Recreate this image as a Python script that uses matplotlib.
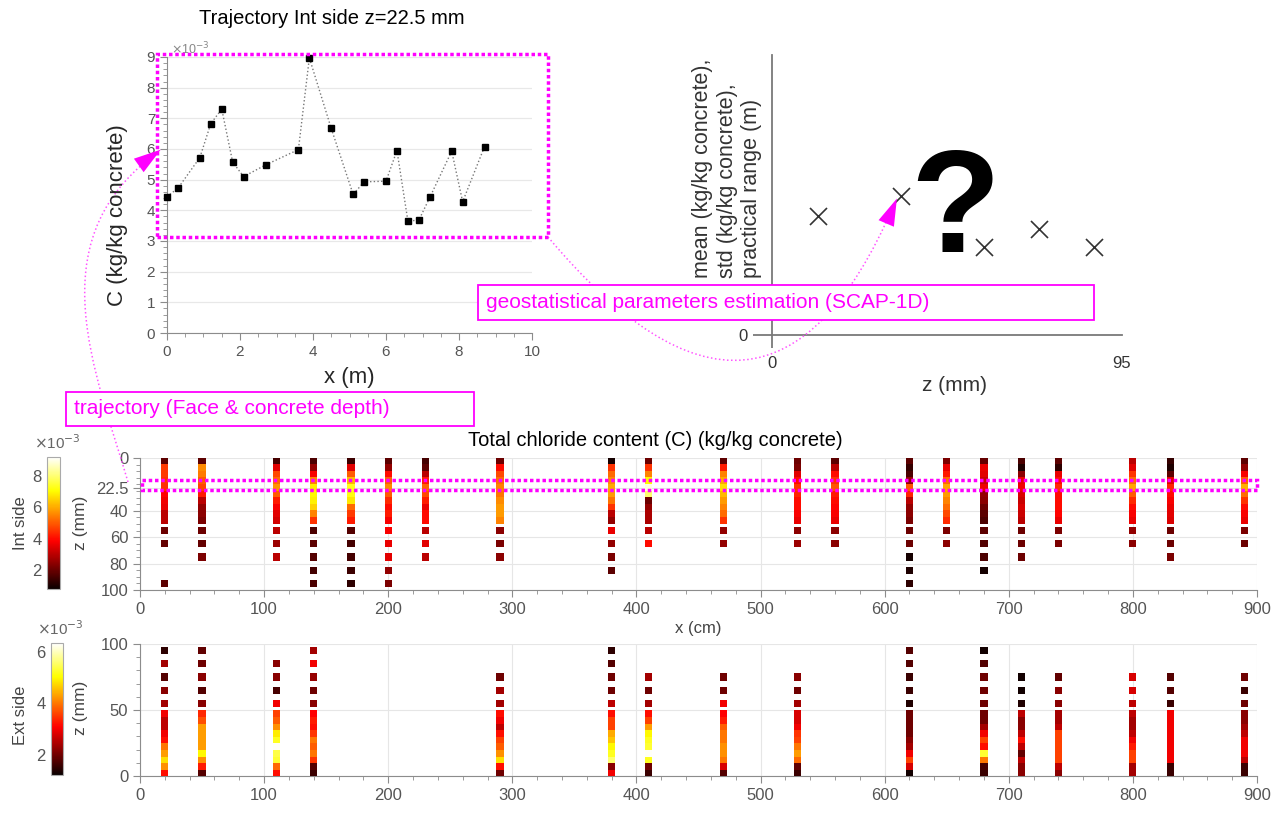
import numpy as np
import matplotlib
matplotlib.use('Agg')
import matplotlib.pyplot as plt
from matplotlib.path import Path
from matplotlib.patches import PathPatch, FancyArrowPatch, Rectangle
from matplotlib.ticker import MultipleLocator

plt.rcParams['font.family'] = ['Liberation Sans', 'DejaVu Sans']

nan = np.nan

# trajectory Int side, z = 22.5 mm  (C in 1e-3 kg/kg concrete)
traj_x = [0, 0.3, 0.9, 1.2, 1.5, 1.8, 2.1, 2.7, 3.6, 3.9, 4.5, 5.1, 5.4, 6.0, 6.3, 6.6, 6.9, 7.2, 7.8, 8.1, 8.7]
traj_c = [4.45, 4.72, 5.72, 6.83, 7.30, 5.57, 5.10, 5.48, 5.98, 8.97, 6.67, 4.52, 4.93, 4.95, 5.95, 3.65, 3.68, 4.42, 5.93, 4.28, 6.08]

# sketch of geostatistical parameters vs depth
par_z = [12.5, 35, 57.5, 72.5, 87.5]
par_v = [0.425, 0.496, 0.314, 0.379, 0.314]

# depth grid (mm)
z_top = [2.5, 7.5, 12.5, 17.5, 22.5, 27.5, 32.5, 37.5, 42.5, 47.5]
z_deep = [55, 65, 75, 85, 95]

# Int side profiles
int_x = [20, 50, 110, 140, 170, 200, 230, 290, 380, 410, 470, 530, 560, 620, 650, 680, 710, 740, 800, 830, 890]
int_top = [
    [1.8, 4.6, 4.6, 4.5, 4.45, 3.9, 3.7, 3.6, 3.0, 3.0],
    [1.8, 5.6, 5.4, 5.0, 4.72, 4.2, 3.0, 2.5, 2.4, 2.2],
    [1.5, 3.5, 4.8, 5.2, 5.72, 5.0, 4.2, 3.8, 3.5, 3.3],
    [1.6, 2.5, 3.8, 5.5, 6.83, 7.0, 6.9, 6.5, 5.5, 4.5],
    [1.4, 3.5, 5.0, 6.2, 7.30, 7.2, 6.8, 5.2, 4.6, 4.2],
    [1.8, 2.5, 4.0, 5.0, 5.57, 5.0, 4.4, 4.0, 4.2, 3.8],
    [1.5, 1.8, 3.0, 4.2, 5.10, 4.8, 4.2, 3.6, 4.0, 4.0],
    [2.0, 4.0, 4.8, 5.2, 5.48, 5.3, 5.6, 5.8, 5.8, 5.5],
    [0.9, 4.5, 5.2, 5.6, 5.98, 5.8, 5.3, 4.5, 3.0, 2.5],
    [2.0, 4.5, 5.5, 7.0, 8.97, 8.0, 2.0, 2.5, 2.8, 2.8],
    [1.8, 4.2, 5.5, 6.0, 6.67, 6.2, 5.8, 5.5, 5.2, 4.5],
    [2.0, 2.2, 3.5, 4.0, 4.52, 4.3, 4.0, 4.0, 3.8, 3.6],
    [1.8, 3.0, 4.0, 4.5, 4.93, 4.2, 4.0, 3.9, 3.8, 3.6],
    [1.8, 1.3, 1.6, 2.5, 4.95, 4.3, 3.0, 2.5, 2.4, 2.2],
    [2.2, 3.6, 4.2, 5.2, 5.95, 5.8, 5.5, 5.2, 4.8, 4.4],
    [1.9, 3.6, 3.5, 3.2, 3.65, 2.5, 2.4, 2.0, 1.8, 1.6],
    [1.6, 1.0, 2.4, 3.6, 3.68, 3.4, 3.2, 3.4, 3.2, 3.0],
    [1.8, 1.2, 3.6, 4.0, 4.42, 4.0, 4.0, 4.0, 3.9, 3.6],
    [3.0, 3.5, 4.5, 5.2, 5.93, 5.0, 4.4, 4.0, 3.8, 3.6],
    [1.3, 1.0, 1.8, 3.5, 4.28, 4.0, 3.8, 3.6, 3.5, 3.4],
    [1.8, 2.5, 3.8, 5.0, 6.08, 5.2, 4.5, 4.0, 3.8, 3.6],
]
int_deep = [
    [2.0, 1.9, nan, nan, 1.8],
    [2.0, 1.9, 2.2, nan, nan],
    [3.0, 2.6, 3.0, nan, nan],
    [1.6, 1.8, 1.7, 1.5, 1.6],
    [1.7, 1.5, 1.5, 1.4, 1.2],
    [3.8, 3.6, 3.5, 2.5, 2.2],
    [3.0, 3.5, 3.0, nan, nan],
    [2.4, 2.2, 2.4, nan, nan],
    [3.6, 2.5, 2.2, 1.8, nan],
    [3.0, 4.0, nan, nan, nan],
    [2.5, 2.5, nan, nan, nan],
    [2.4, 2.6, nan, nan, nan],
    [2.4, 2.4, nan, nan, nan],
    [2.0, 2.0, 0.9, 1.0, 1.2],
    [2.2, 2.4, nan, nan, nan],
    [1.8, 1.7, 1.6, 0.9, nan],
    [2.0, 2.0, 2.0, nan, nan],
    [2.2, 2.2, nan, nan, nan],
    [2.5, 2.4, nan, nan, nan],
    [2.0, 2.0, 2.2, nan, nan],
    [2.2, 2.0, nan, nan, nan],
]

# Ext side profiles
ext_x = [20, 50, 110, 140, 290, 380, 410, 470, 530, 620, 680, 710, 740, 800, 830, 890]
ext_top = [
    [3.2, 4.2, 4.8, 4.3, 4.0, 3.2, 3.0, 2.6, 2.6, 3.0],
    [1.8, 3.3, 4.2, 5.0, 4.3, 4.3, 4.3, 4.3, 3.7, 3.4],
    [3.2, 3.9, 5.3, 5.4, 6.3, 5.2, 4.9, 4.2, 3.8, 3.6],
    [1.6, 1.8, 3.5, 4.0, 3.8, 4.0, 3.5, 3.2, 3.3, 3.1],
    [2.0, 3.2, 4.8, 4.2, 3.8, 3.6, 3.2, 2.6, 3.0, 3.2],
    [3.0, 2.2, 5.6, 5.2, 5.0, 4.6, 4.4, 3.6, 3.6, 3.2],
    [1.6, 2.0, 5.2, 6.3, 5.3, 5.2, 5.0, 4.3, 3.6, 3.2],
    [1.8, 2.8, 4.0, 4.2, 4.2, 4.0, 4.0, 3.8, 3.3, 3.1],
    [1.6, 1.9, 3.9, 4.3, 4.0, 3.6, 3.5, 3.0, 2.8, 2.8],
    [1.3, 2.8, 3.6, 3.0, 2.4, 2.2, 2.0, 2.0, 2.0, 2.0],
    [1.6, 1.7, 4.0, 5.3, 3.2, 3.6, 3.0, 2.4, 2.0, 2.0],
    [2.2, 2.2, 2.6, 1.9, 2.6, 3.2, 2.6, 2.2, 2.2, 2.6],
    [2.2, 2.6, 3.6, 3.6, 3.6, 3.6, 3.6, 2.6, 2.4, 2.4],
    [2.4, 2.4, 3.6, 3.6, 3.3, 3.0, 2.6, 2.4, 2.4, 2.6],
    [1.6, 1.6, 3.0, 3.0, 3.0, 3.0, 3.0, 3.0, 3.0, 3.0],
    [1.6, 1.6, 2.6, 3.0, 3.0, 3.0, 2.6, 2.4, 2.2, 2.2],
]
ext_deep = [
    [2.4, 2.2, 1.8, 2.4, 1.5],
    [2.2, 1.8, 2.2, 2.0, 1.9],
    [3.0, 1.7, 2.2, 2.2, nan],
    [2.2, 2.0, 2.3, 3.0, 2.4],
    [2.4, 2.4, 2.0, nan, nan],
    [2.6, 2.0, 2.0, 1.8, 1.5],
    [2.4, 2.0, 2.4, nan, nan],
    [3.0, 2.0, 2.0, nan, nan],
    [2.4, 2.0, 2.2, nan, nan],
    [1.4, 1.6, 1.6, 1.8, 1.8],
    [2.0, 2.0, 2.0, 1.8, 1.3],
    [1.4, 1.3, 1.3, nan, nan],
    [2.2, 2.2, 1.9, nan, nan],
    [2.6, 2.8, 2.8, nan, nan],
    [1.6, 1.8, 1.8, nan, nan],
    [2.0, 1.6, 2.0, nan, nan],
]

int_clim = (0.75, 9.25)
ext_clim = (1.22, 6.35)

W, H = 1284, 814
MAG = '#ff00ff'
TICK = '#555555'
SPINE = '#8c8c8c'


def pt(x, y):
    return (x / W, 1 - y / H)


def box(l, t, r, b):
    return [l / W, 1 - b / H, (r - l) / W, (b - t) / H]


def style(ax, size=11):
    for s in ['top', 'right']:
        ax.spines[s].set_visible(False)
    for s in ['left', 'bottom']:
        ax.spines[s].set_color(SPINE)
    ax.tick_params(which='both', colors=SPINE, labelcolor=TICK, labelsize=size, direction='out')
    ax.tick_params(which='major', length=5)
    ax.tick_params(which='minor', length=3)


def draw_map(ax, xs, top, deep, clim):
    px, pz, pc = [], [], []
    for x, t, d in zip(xs, top, deep):
        for z, c in zip(z_top + z_deep, t + d):
            if not np.isnan(c):
                px.append(x)
                pz.append(z)
                pc.append(c)
    return ax.scatter(px, pz, c=pc, cmap='hot', vmin=clim[0], vmax=clim[1],
                      marker='s', s=27, linewidths=0, zorder=3)


fig = plt.figure(figsize=(12.84, 8.14), dpi=100)

# ---------------- trajectory plot
ax1 = fig.add_axes(box(167, 57, 532, 333))
ax1.plot(traj_x, traj_c, ls=':', color='#777777', lw=1, marker='s', ms=4,
         mfc='black', mec='black', clip_on=False, zorder=3)
ax1.set_xlim(0, 10)
ax1.set_ylim(0, 9)
ax1.set_xticks(range(0, 11, 2))
ax1.set_yticks(range(0, 10))
ax1.xaxis.set_minor_locator(MultipleLocator(0.5))
ax1.yaxis.set_minor_locator(MultipleLocator(0.2))
ax1.yaxis.grid(True, color='#e8e8e8', lw=0.9)
ax1.set_axisbelow(True)
style(ax1, 11)
ax1.text(0.01, 1.0, r'$\times$10$^{-3}$', transform=ax1.transAxes, fontsize=9,
         color='#888888', ha='left', va='bottom')
fig.text(*pt(332, 18), 'Trajectory Int side z=22.5 mm', fontsize=14.5, ha='center', va='center')
fig.text(*pt(118, 215), 'C (kg/kg concrete)', fontsize=16, rotation=90, ha='center', va='center',
         color='#262626')
fig.text(*pt(349, 378), 'x (m)', fontsize=16, ha='center', va='center', color='#262626')

# ---------------- parameters sketch
ax2 = fig.add_axes(box(772, 55, 1122, 335))
ax2.scatter(par_z, par_v, marker='x', s=150, color='#333333', linewidths=1.2, zorder=3)
ax2.set_xlim(0, 95)
ax2.set_ylim(0, 1)
for s in ['top', 'right']:
    ax2.spines[s].set_visible(False)
for s in ['left', 'bottom']:
    ax2.spines[s].set_color('#7a7a7a')
    ax2.spines[s].set_linewidth(1.3)
ax2.set_yticks([0])
ax2.set_xticks([0])
ax2.set_xticks([95], minor=True)
ax2.set_xticklabels(['95'], minor=True)
ax2.tick_params(axis='y', length=14, width=1.3, color='#7a7a7a', labelcolor='#333333', labelsize=12)
ax2.tick_params(axis='x', which='major', length=9, width=1.3, color='#7a7a7a',
                labelcolor='#333333', labelsize=12, pad=6)
ax2.tick_params(axis='x', which='minor', length=0, labelcolor='#333333', labelsize=12, pad=15)
fig.text(*pt(955, 214), '?', fontsize=106, fontweight='bold', ha='center', va='center', color='black')
fig.text(*pt(727, 278), 'mean (kg/kg concrete),\nstd (kg/kg concrete),\npractical range (m)',
         fontsize=15.5, rotation=90, ha='center', va='bottom', multialignment='left',
         color='#333333', linespacing=1.2)
fig.text(*pt(955, 385), 'z (mm)', fontsize=15, ha='center', va='center', color='#333333')

# ---------------- Int side map
ax3 = fig.add_axes(box(140, 458, 1257, 590))
sc3 = draw_map(ax3, int_x, int_top, int_deep, int_clim)
ax3.set_xlim(0, 900)
ax3.set_ylim(100, 0)
ax3.set_xticks(range(0, 901, 100))
ax3.set_yticks([0, 22.5, 40, 60, 80, 100])
ax3.set_yticklabels(['0', '22.5', '40', '60', '80', '100'])
ax3.xaxis.set_minor_locator(MultipleLocator(20))
ax3.yaxis.set_minor_locator(MultipleLocator(5))
ax3.grid(True, color='#e6e6e6', lw=0.8)
ax3.set_axisbelow(True)
style(ax3, 12)
ax3.add_patch(Rectangle((2, 16.3), 898, 8.2, fill=False, ec=MAG, lw=2.5,
                        ls=(0, (1, 0.8)), clip_on=False, zorder=4))
fig.text(*pt(655, 441), 'Total chloride content (C) (kg/kg concrete)', fontsize=14.5,
         ha='center', va='center')
fig.text(*pt(698, 628), 'x (cm)', fontsize=12, ha='center', va='center', color='#444444')
fig.text(*pt(80, 523), 'z (mm)', fontsize=12.5, rotation=90, ha='center', va='center', color='#444444')

cax3 = fig.add_axes(box(47, 457, 60, 589))
cb3 = fig.colorbar(sc3, cax=cax3)
cb3.set_ticks([2, 4, 6, 8])
cax3.yaxis.set_ticks_position('left')
cax3.tick_params(length=0, labelsize=12, labelcolor=TICK, pad=4)
cb3.outline.set_edgecolor('#aaaaaa')
cb3.outline.set_linewidth(0.8)
fig.text(*pt(57, 443), r'$\times$10$^{-3}$', fontsize=11, ha='center', va='center', color='#666666')
fig.text(*pt(21, 523), 'Int side', fontsize=12, rotation=90, ha='center', va='center', color='#444444')

# ---------------- Ext side map
ax4 = fig.add_axes(box(140, 644, 1257, 776))
sc4 = draw_map(ax4, ext_x, ext_top, ext_deep, ext_clim)
ax4.set_xlim(0, 900)
ax4.set_ylim(0, 100)
ax4.set_xticks(range(0, 901, 100))
ax4.set_yticks([0, 50, 100])
ax4.xaxis.set_minor_locator(MultipleLocator(20))
ax4.yaxis.set_minor_locator(MultipleLocator(10))
ax4.grid(True, color='#e6e6e6', lw=0.8)
ax4.set_axisbelow(True)
style(ax4, 12)
fig.text(*pt(80, 708), 'z (mm)', fontsize=12.5, rotation=90, ha='center', va='center', color='#444444')

cax4 = fig.add_axes(box(51, 643, 63, 775))
cb4 = fig.colorbar(sc4, cax=cax4)
cb4.set_ticks([2, 4, 6])
cax4.yaxis.set_ticks_position('left')
cax4.tick_params(length=0, labelsize=12, labelcolor=TICK, pad=4)
cb4.outline.set_edgecolor('#aaaaaa')
cb4.outline.set_linewidth(0.8)
fig.text(*pt(60, 629), r'$\times$10$^{-3}$', fontsize=11, ha='center', va='center', color='#666666')
fig.text(*pt(21, 715), 'Ext side', fontsize=12, rotation=90, ha='center', va='center', color='#444444')

# ---------------- annotations (figure pixel coordinates)
fig.patches.append(Rectangle(pt(157, 237), (548 - 157) / W, (237 - 54) / H, transform=fig.transFigure,
                             fill=False, ec=MAG, lw=2.5, ls=(0, (1, 0.8)), zorder=4))

curve_a = [pt(548, 237), pt(767, 498), pt(893, 207)]
fig.patches.append(PathPatch(Path(curve_a, [Path.MOVETO, Path.CURVE3, Path.CURVE3]),
                             transform=fig.transFigure, fill=False, ec='#ff55ff', lw=1.1, ls=':', zorder=1.5))
fig.patches.append(FancyArrowPatch(pt(886, 224), pt(898, 196), transform=fig.transFigure,
                                   arrowstyle='-|>,head_length=1.3,head_width=0.4', mutation_scale=15,
                                   color=MAG, lw=0, zorder=1.6))

curve_b = [pt(128, 482), pt(95, 370), pt(40, 245), pt(150, 158)]
fig.patches.append(PathPatch(Path(curve_b, [Path.MOVETO, Path.CURVE4, Path.CURVE4, Path.CURVE4]),
                             transform=fig.transFigure, fill=False, ec='#ff55ff', lw=1.1, ls=':', zorder=1.5))
fig.patches.append(FancyArrowPatch(pt(138, 166), pt(163, 148), transform=fig.transFigure,
                                   arrowstyle='-|>,head_length=1.3,head_width=0.4', mutation_scale=15,
                                   color=MAG, lw=0, zorder=1.6))

fig.patches.append(Rectangle(pt(478, 320), (1094 - 478) / W, (320 - 285) / H, transform=fig.transFigure,
                             fc='white', ec=MAG, lw=1.3, zorder=2))
fig.text(*pt(486, 302), 'geostatistical parameters estimation (SCAP-1D)', fontsize=15,
         color=MAG, ha='left', va='center', zorder=3)

fig.patches.append(Rectangle(pt(66, 426), (474 - 66) / W, (426 - 392) / H, transform=fig.transFigure,
                             fc='white', ec=MAG, lw=1.3, zorder=2))
fig.text(*pt(74, 409), 'trajectory (Face & concrete depth)', fontsize=15,
         color=MAG, ha='left', va='center', zorder=3)

fig.savefig('out.png', dpi=100)
